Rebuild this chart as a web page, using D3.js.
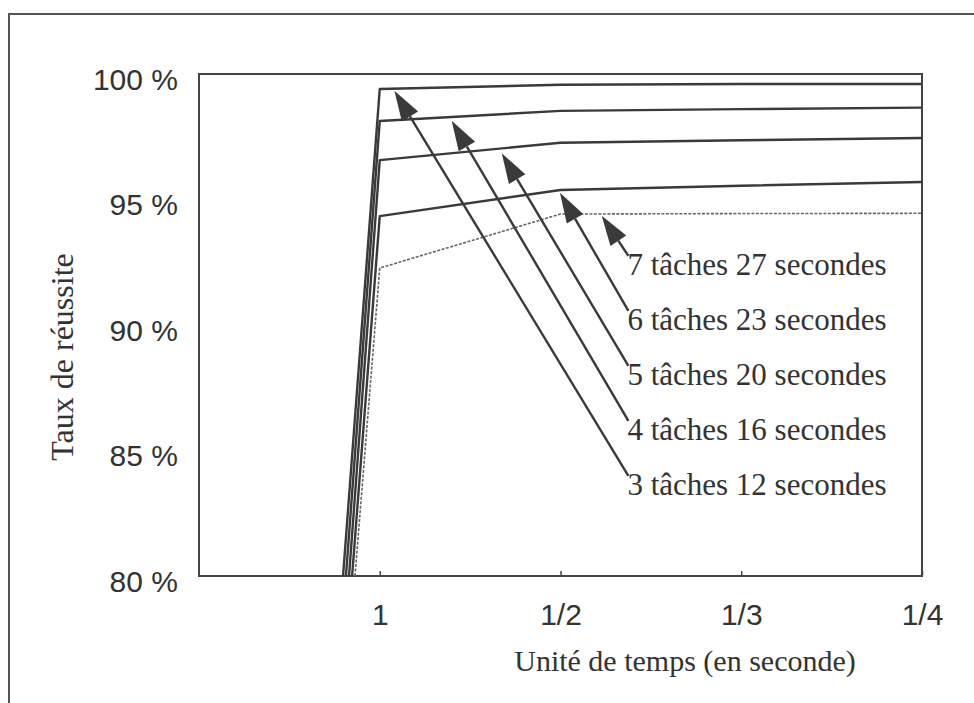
<!DOCTYPE html>
<html>
<head>
<meta charset="utf-8">
<script src="https://cdn.jsdelivr.net/npm/d3@7"></script>
<style>
    body { margin: 0; background: #fff; }
    .sans { font-family: "Liberation Sans", Arial, sans-serif; fill: #333; }
    .serif { font-family: "Liberation Serif", "Times New Roman", serif; fill: #333; }
</style>
</head>
<body>
<svg id="chart" width="974" height="703"></svg>
<script>
// x axis: time unit, one tick per step
const xTicks = [1, 2, 3, 4];
const xTickLabels = ["1", "1/2", "1/3", "1/4"];

// y axis: success rate
const yTicks = [80, 85, 90, 95, 100];
const yTickLabels = ["80 %", "85 %", "90 %", "95 %", "100 %"];

// series, from the top curve to the bottom one
const seriesNames = [
    "3 tâches 12 secondes",
    "4 tâches 16 secondes",
    "5 tâches 20 secondes",
    "6 tâches 23 secondes",
    "7 tâches 27 secondes"
];
// where each curve leaves the 80 % line (in tick units)
const startX = [0.797, 0.813, 0.830, 0.847, 0.863];
// success rate at 1, 1/2, 1/3, 1/4
const values = [
    [99.40, 99.57, 99.60, 99.60],
    [98.13, 98.53, 98.60, 98.66],
    [96.57, 97.26, 97.36, 97.45],
    [94.34, 95.38, 95.55, 95.70],
    [92.27, 94.42, 94.44, 94.45]
];
// where each label's arrow points (data units)
const arrowTipX = [1.081, 1.398, 1.675, 1.997, 2.228];
const arrowTipY = [99.33, 98.14, 96.84, 95.27, 94.35];

const plotLeft = 199;
const plotRight = 922;
const plotTop = 74;
const plotBottom = 576;
const ink = "#3a3a3a";

const svg = d3.select("#chart");

const xScale = d3.scaleLinear().domain([0, 4]).range([plotLeft, plotRight]);
const yScale = d3.scaleLinear().domain([80, 100]).range([plotBottom, plotTop]);

// outer frame of the figure (runs off the right and bottom)
svg.append("path")
    .attr("d", "M9,710 L9,14 L980,14")
    .attr("fill", "none")
    .attr("stroke", "#555")
    .attr("stroke-width", 2);

// plot box
svg.append("rect")
    .attr("x", plotLeft)
    .attr("y", plotTop)
    .attr("width", plotRight - plotLeft)
    .attr("height", plotBottom - plotTop)
    .attr("fill", "none")
    .attr("stroke", "#444")
    .attr("stroke-width", 2);

// x axis with small inner ticks
const xAxis = svg.append("g")
    .attr("transform", `translate(0, ${plotBottom})`)
    .call(d3.axisBottom(xScale)
        .tickValues(xTicks)
        .tickFormat(function (d, i) { return xTickLabels[i]; })
        .tickSizeInner(-5)
        .tickSizeOuter(0));
xAxis.select(".domain").remove();
xAxis.selectAll(".tick line").attr("stroke", "#444").attr("stroke-width", 1.5);
xAxis.selectAll(".tick text")
    .attr("class", "sans")
    .attr("y", 49)
    .attr("dy", null)
    .attr("font-size", "30px")
    .attr("fill", ink);

// y axis labels only
const yAxis = svg.append("g")
    .attr("transform", `translate(${plotLeft}, 0)`)
    .call(d3.axisLeft(yScale)
        .tickValues(yTicks)
        .tickFormat(function (d, i) { return yTickLabels[i]; })
        .tickSize(0)
        .tickPadding(21));
yAxis.select(".domain").remove();
yAxis.selectAll(".tick text")
    .attr("class", "sans")
    .attr("dy", "0.5em")
    .attr("font-size", "30px")
    .attr("fill", ink);

// axis titles
svg.append("text")
    .attr("class", "serif")
    .attr("x", 685)
    .attr("y", 671)
    .attr("text-anchor", "middle")
    .attr("font-size", "30px")
    .text("Unité de temps (en seconde)");
svg.append("text")
    .attr("class", "serif")
    .attr("transform", "translate(73, 357) rotate(-90)")
    .attr("text-anchor", "middle")
    .attr("font-size", "32px")
    .text("Taux de réussite");

// curves
const line = d3.line()
    .x(function (d) { return xScale(d[0]); })
    .y(function (d) { return yScale(d[1]); });

seriesNames.forEach(function (name, k) {
    const pts = [[startX[k], 80]].concat(values[k].map(function (v, i) { return [xTicks[i], v]; }));
    const last = k == seriesNames.length - 1;
    svg.append("path")
        .attr("d", line(pts))
        .attr("fill", "none")
        .attr("stroke", last ? "#666" : ink)
        .attr("stroke-width", last ? 1.6 : 2.4)
        .attr("stroke-dasharray", last ? "3,1.5" : null)
        .attr("stroke-linejoin", "round");
});

// labels with arrows, the top label belongs to the bottom curve
const labelX = xScale(2.37);
const firstBaseline = yScale(92.0);
const rowGap = 55;
const headLength = 30;
const headHalf = 9.5;

seriesNames.forEach(function (name, k) {
    const row = seriesNames.length - 1 - k;
    const baseline = firstBaseline + row * rowGap;

    svg.append("text")
        .attr("class", "serif")
        .attr("x", labelX)
        .attr("y", baseline)
        .attr("font-size", "31px")
        .text(name);

    const tx = xScale(arrowTipX[k]);
    const ty = yScale(arrowTipY[k]);
    const sx = labelX + 1;
    const sy = baseline - 19;
    const len = Math.hypot(sx - tx, sy - ty);
    const ux = (sx - tx) / len;
    const uy = (sy - ty) / len;
    const bx = tx + ux * headLength;
    const by = ty + uy * headLength;

    svg.append("line")
        .attr("x1", sx).attr("y1", sy)
        .attr("x2", bx).attr("y2", by)
        .attr("stroke", ink)
        .attr("stroke-width", 2.4);

    svg.append("path")
        .attr("d", `M${tx},${ty} L${bx - uy * headHalf},${by + ux * headHalf} L${bx + uy * headHalf},${by - ux * headHalf} Z`)
        .attr("fill", ink);
});
</script>
</body>
</html>
